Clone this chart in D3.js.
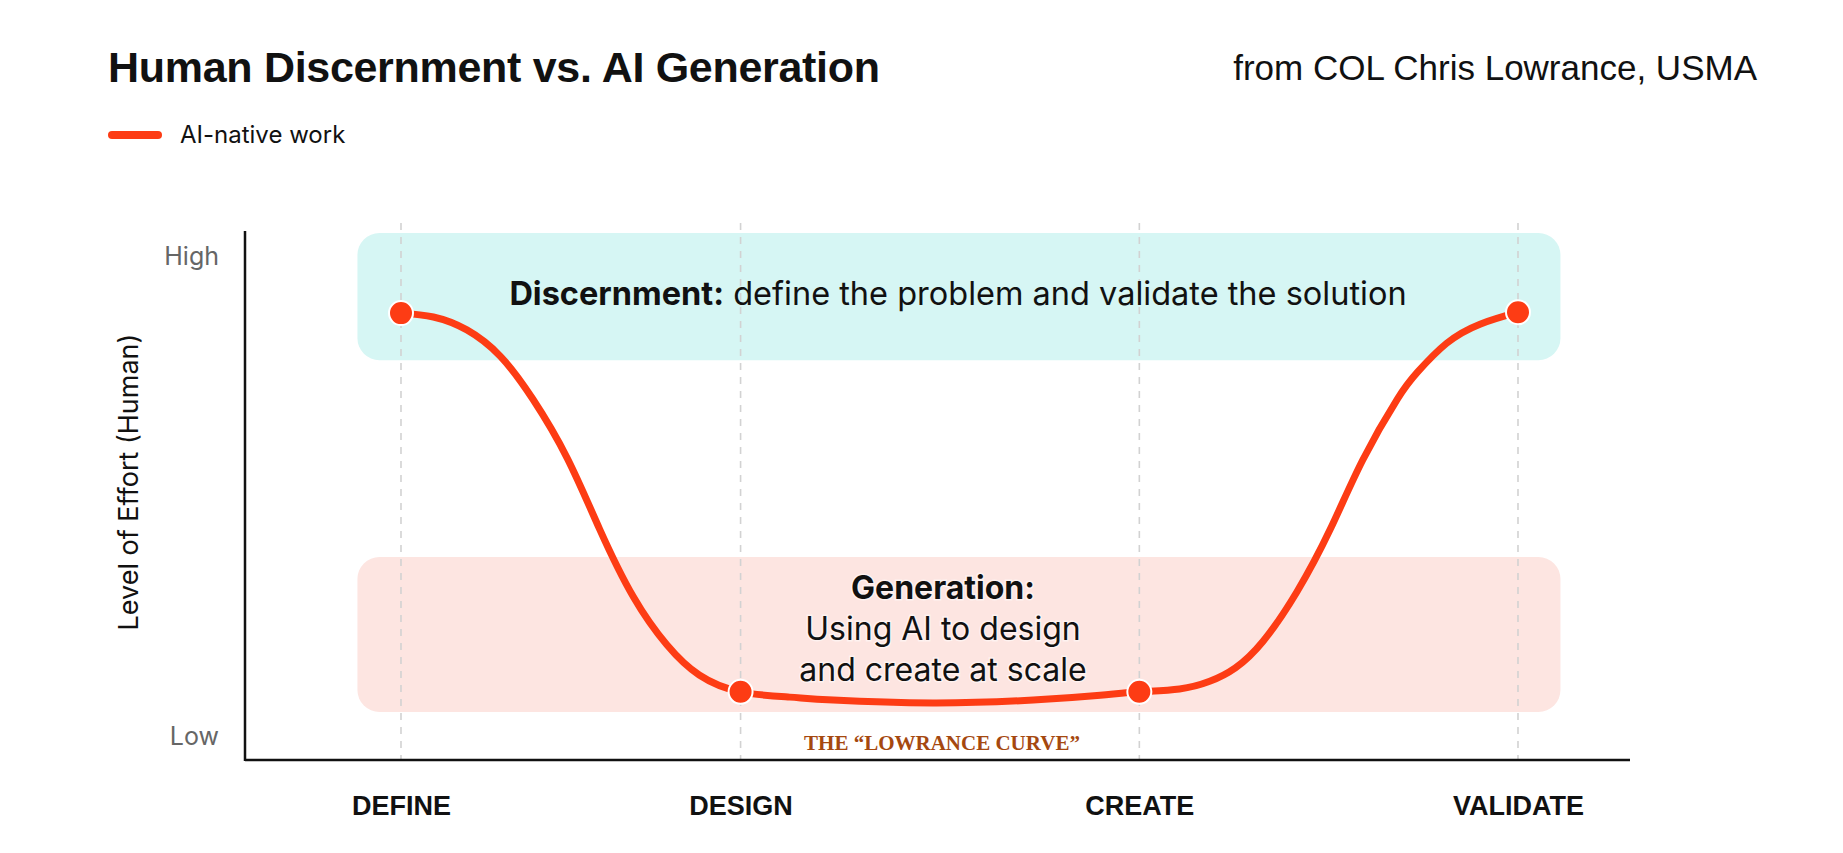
<!DOCTYPE html>
<html>
<head>
<meta charset="utf-8">
<script src="https://cdn.jsdelivr.net/npm/d3@7"></script>
<style>
  body { margin: 0; background: #fff; }
  svg { display: block; }
</style>
</head>
<body>
<div id="chart"></div>
<script>
// stages along the process, and where each sits on the 0-100 progress scale
const stages = ["DEFINE", "DESIGN", "CREATE", "VALIDATE"];
const stageProgress = [0, 30.4, 66.1, 100];
const stageEffort = [88.1, 9.2, 9.2, 88.3];

// the "Lowrance curve" (progress, effort 0-100)
const curveProgress = [0, 2.9, 5.9, 8.9, 11.8, 14.9, 17.8, 20.8, 23.8, 26.7, 30.4,
  34.8, 38.7, 47.6, 56.6, 62.6, 66.1,
  69.7, 72.4, 74.7, 77.2, 80.2, 83.2, 86.1, 89.2, 91.0, 93.6, 96.6, 100];
const curveEffort = [88.1, 87.3, 84.6, 79.1, 70.2, 57.8, 43.0, 29.0, 19.0, 12.7, 9.2,
  8.1, 7.5, 6.9, 7.5, 8.5, 9.2,
  9.8, 11.4, 14.2, 19.8, 30.0, 43.1, 57.5, 70.2, 75.8, 81.8, 85.8, 88.3];

// effort tick labels
const effortTicks = [0, 100];
const effortLabels = ["Low", "High"];

// shaded zones (effort range)
const zoneNames = ["discernment", "generation"];
const zoneLow = [78.3, 5.0];
const zoneHigh = [104.8, 37.3];
const zoneColors = ["#d6f6f4", "#fde5e1"];

const width = 1843;
const height = 853;
const red = "#fd3c14";

const svg = d3.select("#chart").append("svg")
    .attr("width", width)
    .attr("height", height);

const x = d3.scaleLinear().domain([0, 100]).range([401, 1518]);
const y = d3.scaleLinear().domain([0, 100]).range([736, 256]);

const frameLeft = 245, frameRight = 1630, frameTop = 231, frameBottom = 760;

// zones
svg.selectAll("rect.zone")
    .data(zoneNames)
    .enter().append("rect")
    .attr("class", "zone")
    .attr("x", x(-3.9))
    .attr("width", x(103.8) - x(-3.9))
    .attr("y", (d, i) => y(zoneHigh[i]))
    .attr("height", (d, i) => y(zoneLow[i]) - y(zoneHigh[i]))
    .attr("rx", 22)
    .attr("fill", (d, i) => zoneColors[i]);

// dashed stage guides
svg.selectAll("line.guide")
    .data(stageProgress)
    .enter().append("line")
    .attr("class", "guide")
    .attr("x1", d => x(d)).attr("x2", d => x(d))
    .attr("y1", 223).attr("y2", frameBottom)
    .attr("stroke", "#d2d2d2")
    .attr("stroke-width", 1.6)
    .attr("stroke-dasharray", "7,7");

// axes frame
svg.append("line")
    .attr("x1", frameLeft).attr("x2", frameLeft)
    .attr("y1", frameTop).attr("y2", frameBottom + 1)
    .attr("stroke", "#111").attr("stroke-width", 2.5);
svg.append("line")
    .attr("x1", frameLeft).attr("x2", frameRight)
    .attr("y1", frameBottom).attr("y2", frameBottom)
    .attr("stroke", "#111").attr("stroke-width", 2.5);

// y tick labels
const yAxis = svg.append("g")
    .attr("transform", `translate(${frameLeft - 26},0)`)
    .call(d3.axisLeft(y).tickValues(effortTicks).tickSize(0)
        .tickFormat((d, i) => effortLabels[i]));
yAxis.select(".domain").remove();
yAxis.selectAll("text")
    .attr("x", 0)
    .attr("font-family", "Inter, sans-serif")
    .attr("font-size", 25)
    .attr("fill", "#666");

// x tick labels
const xAxis = svg.append("g")
    .attr("transform", `translate(0,${frameBottom})`)
    .call(d3.axisBottom(x).tickValues(stageProgress).tickSize(0)
        .tickFormat((d, i) => stages[i]));
xAxis.select(".domain").remove();
xAxis.selectAll("text")
    .attr("dy", 0)
    .attr("y", 55)
    .attr("font-family", "Liberation Sans, Arial, sans-serif")
    .attr("font-weight", "bold")
    .attr("font-size", 27)
    .attr("fill", "#111");

// y axis title
svg.append("text")
    .attr("transform", "translate(138,482) rotate(-90)")
    .attr("text-anchor", "middle")
    .attr("font-family", "Inter, sans-serif")
    .attr("font-size", 27)
    .attr("fill", "#111")
    .text("Level of Effort (Human)");

// zone text
const disc = svg.append("text")
    .attr("x", 958).attr("y", 305)
    .attr("text-anchor", "middle")
    .attr("font-family", "Inter, sans-serif")
    .attr("font-size", 32.5)
    .attr("fill", "#111");
disc.append("tspan").attr("font-weight", "bold").text("Discernment:");
disc.append("tspan").text(" define the problem and validate the solution");

const genLines = ["Generation:", "Using AI to design", "and create at scale"];
svg.selectAll("text.gen")
    .data(genLines)
    .enter().append("text")
    .attr("class", "gen")
    .attr("x", 943)
    .attr("y", (d, i) => 599 + i * 41)
    .attr("text-anchor", "middle")
    .attr("font-family", "Inter, sans-serif")
    .attr("font-size", 32)
    .attr("font-weight", (d, i) => i === 0 ? "bold" : "normal")
    .attr("fill", "#111")
    .attr("stroke", "#fff")
    .attr("stroke-opacity", 0.5)
    .attr("stroke-width", 3)
    .attr("paint-order", "stroke")
    .text(d => d);

// curve
const line = d3.line()
    .x(d => x(d[0]))
    .y(d => y(d[1]))
    .curve(d3.curveNatural);

svg.append("path")
    .datum(curveProgress.map((p, i) => [p, curveEffort[i]]))
    .attr("d", line)
    .attr("fill", "none")
    .attr("stroke", red)
    .attr("stroke-width", 7)
    .attr("stroke-linecap", "round");

svg.selectAll("circle.stage")
    .data(stageProgress)
    .enter().append("circle")
    .attr("class", "stage")
    .attr("cx", d => x(d))
    .attr("cy", (d, i) => y(stageEffort[i]))
    .attr("r", 12)
    .attr("fill", red)
    .attr("stroke", "#fff")
    .attr("stroke-width", 2);

// curve name
svg.append("text")
    .attr("x", 942).attr("y", 750)
    .attr("text-anchor", "middle")
    .attr("font-family", "Liberation Serif, serif")
    .attr("font-weight", "bold")
    .attr("font-size", 21)
    .attr("fill", "#a5480f")
    .text("THE \u201CLOWRANCE CURVE\u201D");

// title + source
svg.append("text")
    .attr("x", 108).attr("y", 82)
    .attr("font-family", "Liberation Sans, Arial, sans-serif")
    .attr("font-weight", "bold")
    .attr("font-size", 43)
    .attr("letter-spacing", -0.3)
    .attr("fill", "#111")
    .text("Human Discernment vs. AI Generation");

svg.append("text")
    .attr("x", 1757).attr("y", 80)
    .attr("text-anchor", "end")
    .attr("font-family", "Liberation Sans, Arial, sans-serif")
    .attr("font-size", 35)
    .attr("fill", "#111")
    .text("from COL Chris Lowrance, USMA");

// legend
svg.append("line")
    .attr("x1", 112).attr("x2", 158)
    .attr("y1", 135).attr("y2", 135)
    .attr("stroke", red)
    .attr("stroke-width", 8)
    .attr("stroke-linecap", "round");
svg.append("text")
    .attr("x", 180).attr("y", 143)
    .attr("font-family", "Inter, sans-serif")
    .attr("font-size", 24)
    .attr("fill", "#111")
    .text("AI-native work");
</script>
</body>
</html>
